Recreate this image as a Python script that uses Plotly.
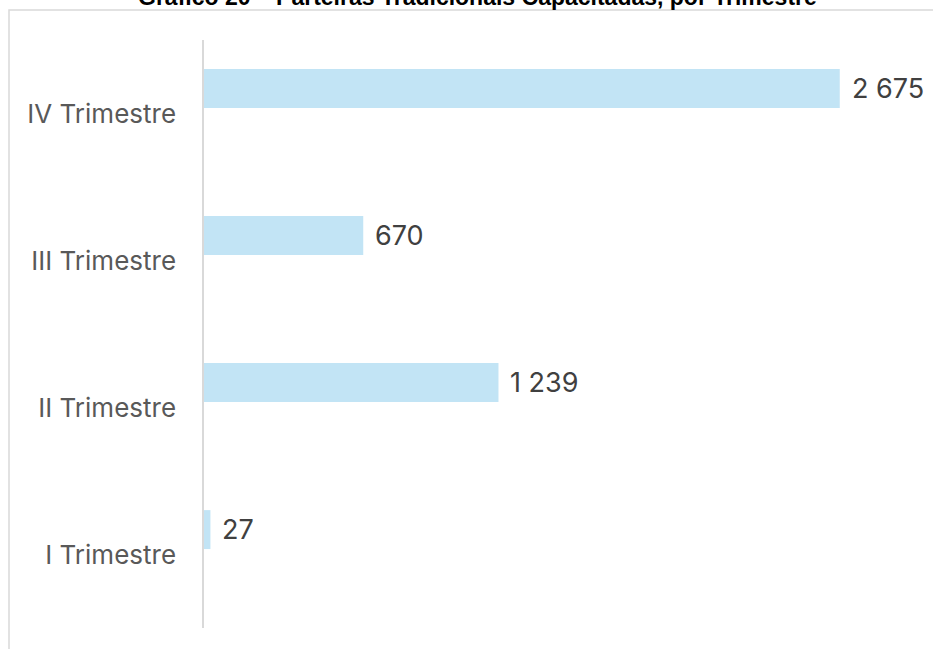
import plotly.graph_objects as go

# data
trimestres = ["I Trimestre", "II Trimestre", "III Trimestre", "IV Trimestre"]
parteiras = [27, 1239, 670, 2675]

titulo = "Gráfico 20 – Parteiras Tradicionais Capacitadas, por Trimestre"

fig = go.Figure()
fig.add_trace(go.Bar(
    y=trimestres,
    x=parteiras,
    orientation="h",
    width=0.265,
    offset=0.037,
    marker=dict(color="#c2e4f5", line=dict(width=0)),
    hoverinfo="skip",
))

# value labels to the right of each bar (bar sits above the category centre)
for cat, val in zip(trimestres, parteiras):
    fig.add_annotation(
        x=val, y=cat, xref="x", yref="y",
        text=f"{val:,}".replace(",", " "),
        showarrow=False, xanchor="left", yanchor="middle",
        xshift=10, yshift=25,
        font=dict(size=27, color="#404040", family="Inter"),
    )

# title, partly cut by the top edge as in the original
fig.add_annotation(
    x=0.383, y=1.073, xref="paper", yref="paper",
    text="<b>" + titulo + "</b>",
    showarrow=False, xanchor="center", yanchor="middle",
    font=dict(size=23, color="#000000", family="Liberation Sans"),
)

fig.update_layout(
    width=933, height=649,
    margin=dict(l=204, r=16, t=40, b=21),
    paper_bgcolor="white", plot_bgcolor="white",
    showlegend=False,
    font=dict(family="Inter", color="#595959"),
    xaxis=dict(range=[0, 3000], visible=False),
    yaxis=dict(
        showline=True, linecolor="#d9d9d9", linewidth=1.5,
        showgrid=False, ticks="", ticklabelstandoff=21,
        tickfont=dict(size=26, color="#595959", family="Inter"),
    ),
    shapes=[dict(
        type="rect", xref="paper", yref="paper",
        x0=-0.2735, x1=1.1, y0=-0.2, y1=1.051,
        line=dict(color="#d9d9d9", width=1.5),
        fillcolor="rgba(0,0,0,0)", layer="below",
    )],
)

fig.write_html("out.html", config={"displayModeBar": False},
               post_script="document.body.style.margin='0';")
